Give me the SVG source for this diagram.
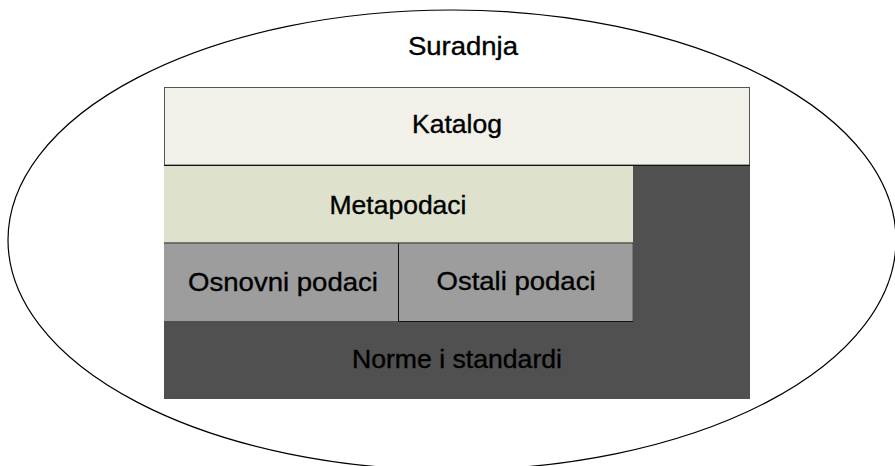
<svg xmlns="http://www.w3.org/2000/svg" width="895" height="466" viewBox="0 0 895 466">
<style>
  text { font-family: "Liberation Sans", Arial, sans-serif; font-size: 25px; fill: #000; stroke: #000; stroke-width: 0.35; text-anchor: middle; }
</style>
<rect x="0" y="0" width="895" height="466" fill="#ffffff"/>
<g id="suradnja">
  <ellipse cx="452" cy="240" rx="444" ry="230" fill="none" stroke="#000" stroke-width="1.2"/>
  <text x="463" y="55" textLength="110" lengthAdjust="spacingAndGlyphs">Suradnja</text>
</g>
<g id="norme">
  <rect x="164" y="165" width="586" height="234" fill="#505050"/>
  <text x="457" y="368" textLength="210" lengthAdjust="spacingAndGlyphs">Norme i standardi</text>
</g>
<g id="katalog">
  <rect x="164.5" y="87.5" width="585" height="77.5" fill="#f1f1ea" stroke="#555" stroke-width="1"/>
  <text x="457" y="133" textLength="90" lengthAdjust="spacingAndGlyphs">Katalog</text>
</g>
<g id="metapodaci">
  <rect x="164" y="165" width="469" height="78" fill="#dee1cc"/>
  <line x1="164" y1="165.5" x2="750" y2="165.5" stroke="#111" stroke-width="1"/>
  <line x1="164" y1="243" x2="633" y2="243" stroke="#111" stroke-width="1.2"/>
  <text x="398" y="214" textLength="137" lengthAdjust="spacingAndGlyphs">Metapodaci</text>
</g>
<g id="osnovni">
  <rect x="164" y="243.5" width="234" height="77.5" fill="#9d9d9d"/>
  <text x="283" y="291" textLength="190" lengthAdjust="spacingAndGlyphs">Osnovni podaci</text>
</g>
<g id="ostali">
  <rect x="398.5" y="243.5" width="234" height="78" fill="#9d9d9d"/>
  <path d="M398.5 243.5 V321.5 H633" fill="none" stroke="#111" stroke-width="1"/>
  <text x="516" y="290" textLength="159" lengthAdjust="spacingAndGlyphs">Ostali podaci</text>
</g>
<g id="connectors"></g>
</svg>
